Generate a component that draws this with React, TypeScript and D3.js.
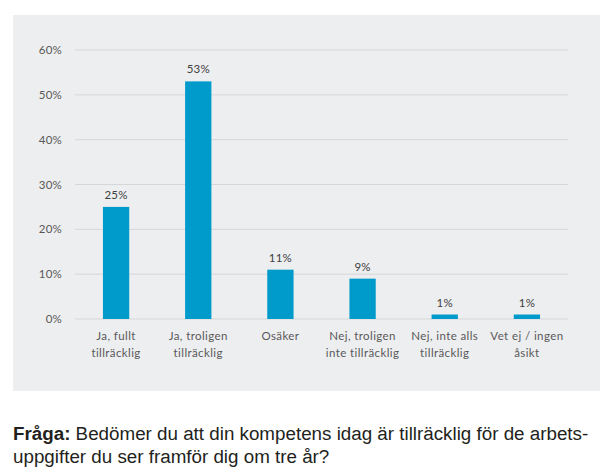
import React from "react";
import * as d3 from "d3";

const categories: string[][] = [
  ["Ja, fullt", "tillräcklig"],
  ["Ja, troligen", "tillräcklig"],
  ["Osäker"],
  ["Nej, troligen", "inte tillräcklig"],
  ["Nej, inte alls", "tillräcklig"],
  ["Vet ej / ingen", "åsikt"],
];
const values: number[] = [25, 53, 11, 9, 1, 1];
const yTicks: number[] = [0, 10, 20, 30, 40, 50, 60];
const questionLabel = "Fråga:";
const questionLines: string[] = [
  " Bedömer du att din kompetens idag är tillräcklig för de arbets-",
  "uppgifter du ser framför dig om tre år?",
];

const W = 608;
const H = 475;
const plotLeft = 75;
const plotRight = 568;
const plotTop = 50;
const plotBottom = 319;
const labelFont = "Lato, 'Open Sans', sans-serif";

export default function App() {
  const x = d3
    .scaleBand<number>()
    .domain(values.map((_, i) => i))
    .range([plotLeft, plotRight])
    .paddingInner(0.68)
    .paddingOuter(0.34);
  const y = d3.scaleLinear().domain([0, 60]).range([plotBottom, plotTop]);

  return (
    <svg
      width={W}
      height={H}
      style={{ position: "absolute", left: 0, top: 0, background: "#fff" }}
    >
      <rect x={13} y={15} width={587} height={376} fill="#EDEEF0" />
      {yTicks.map((t) => (
        <g key={t}>
          <line
            x1={plotLeft}
            x2={plotRight}
            y1={y(t)}
            y2={y(t)}
            stroke="#D6D7D9"
            strokeWidth={1}
          />
          <text
            x={62}
            y={y(t)}
            dy="0.35em"
            textAnchor="end"
            fontFamily={labelFont}
            fontSize={11.5}
            letterSpacing={0.2}
            fill="#595959"
          >
            {t}%
          </text>
        </g>
      ))}
      {values.map((v, i) => (
        <g key={i}>
          <rect
            x={x(i)!}
            y={y(v)}
            width={x.bandwidth()}
            height={y(0) - y(v)}
            fill="#009ACB"
          />
          <text
            x={x(i)! + x.bandwidth() / 2}
            y={y(v) - 8}
            textAnchor="middle"
            fontFamily={labelFont}
            fontSize={11.5}
            letterSpacing={0.2}
            fill="#404040"
          >
            {v}%
          </text>
          {categories[i].map((line, j) => (
            <text
              key={j}
              x={x(i)! + x.bandwidth() / 2}
              y={340 + j * 17}
              textAnchor="middle"
              fontFamily={labelFont}
              fontSize={11.5}
              letterSpacing={0.4}
              fill="#595959"
            >
              {line}
            </text>
          ))}
        </g>
      ))}
      <text
        x={13}
        y={440}
        fontFamily="'Liberation Sans', Arial, sans-serif"
        fontSize={18.8}
        fill="#231F20"
      >
        <tspan fontWeight="bold">{questionLabel}</tspan>
        <tspan>{questionLines[0]}</tspan>
      </text>
      <text
        x={13}
        y={463}
        fontFamily="'Liberation Sans', Arial, sans-serif"
        fontSize={18.8}
        fill="#231F20"
      >
        {questionLines[1]}
      </text>
    </svg>
  );
}
